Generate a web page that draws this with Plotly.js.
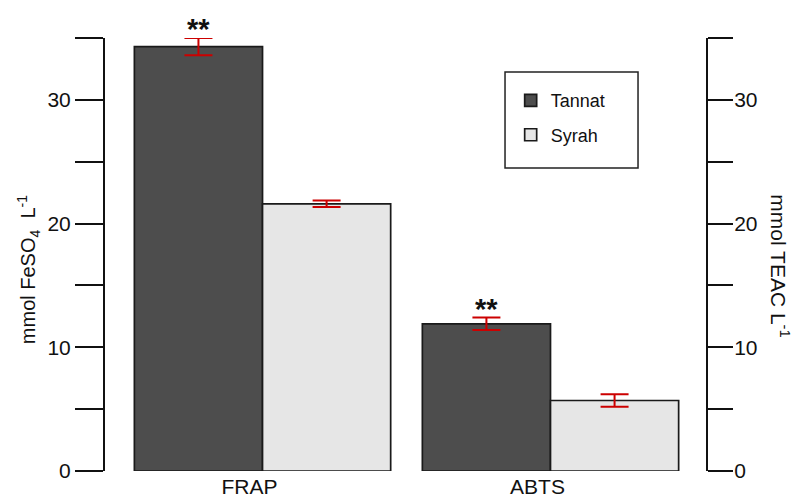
<!DOCTYPE html>
<html>
<head>
<meta charset="utf-8">
<script src="https://cdn.plot.ly/plotly-3.0.1.min.js"></script>
<style>html,body{margin:0;padding:0;background:#fff;}#chart{width:795px;height:499px;}</style>
</head>
<body>
<div id="chart"></div>
<script>
// ---- data ----
var categories = ['FRAP', 'ABTS'];
var series = ['Tannat', 'Syrah'];
// FRAP values on left axis (mmol FeSO4 L-1), ABTS on right axis (mmol TEAC L-1)
var tannatValues = [34.3, 11.9];
var tannatErrors = [0.7, 0.5];
var syrahValues = [21.6, 5.7];
var syrahErrors = [0.27, 0.5];
var significance = ['**', '**']; // Tannat vs Syrah, per category
var leftTicks = [0, 10, 20, 30];
var rightTicks = [0, 10, 20, 30];

var FONT = 'Arial, "Liberation Sans", sans-serif';
var tannatColor = '#4d4d4d';
var syrahColor = '#e6e6e6';
var errColor = '#cc0000';
var bargap = 0.11;

function barTrace(name, color, vals, errs, idx, yaxis, showleg) {
  return {
    type: 'bar',
    name: name,
    legendgroup: name,
    showlegend: showleg,
    x: [categories[idx]],
    y: [vals[idx]],
    yaxis: yaxis,
    marker: {color: color, line: {color: '#1a1a1a', width: 1.7}},
    error_y: {type: 'data', array: [errs[idx]], visible: true, color: errColor, thickness: 2, width: 14},
    hoverinfo: 'x+y'
  };
}

var data = [
  barTrace(series[0], tannatColor, tannatValues, tannatErrors, 0, 'y', true),
  barTrace(series[1], syrahColor, syrahValues, syrahErrors, 0, 'y', true),
  barTrace(series[0], tannatColor, tannatValues, tannatErrors, 1, 'y2', false),
  barTrace(series[1], syrahColor, syrahValues, syrahErrors, 1, 'y2', false)
];

// significance markers above Tannat bars
var barOffset = (1 - bargap) / 4;
var annotations = categories.map(function (c, i) {
  return {
    x: i - barOffset, y: tannatValues[i] + tannatErrors[i],
    xref: 'x', yref: i === 0 ? 'y' : 'y2',
    text: '<b>' + significance[i] + '</b>', showarrow: false,
    xanchor: 'center', yanchor: 'bottom', yshift: -9,
    font: {family: FONT, size: 29, color: '#111'}
  };
});
annotations.push({
  xref: 'paper', yref: 'paper', x: -0.128, y: 0.464,
  text: 'mmol FeSO<sub>4</sub>  L<sup>-1</sup>', textangle: -90, showarrow: false,
  xanchor: 'center', yanchor: 'middle',
  font: {family: FONT, size: 20, color: '#111'}
});
annotations.push({
  xref: 'paper', yref: 'paper', x: 1.123, y: 0.473,
  text: 'mmol TEAC L<sup>-1</sup>', textangle: 90, showarrow: false,
  xanchor: 'center', yanchor: 'middle',
  font: {family: FONT, size: 21, color: '#111'}
});

var yStyle = {
  range: [0, 35],
  showline: true, linecolor: '#111', linewidth: 2,
  ticks: 'outside', ticklen: 28, tickwidth: 2, tickcolor: '#111',
  showgrid: false, zeroline: false,
  minor: {dtick: 5, ticks: 'outside', ticklen: 28, tickwidth: 2, tickcolor: '#111', showgrid: false},
  tickfont: {family: FONT, size: 21, color: '#111'},
  fixedrange: true
};

var layout = {
  width: 795, height: 499,
  margin: {l: 105, r: 89, t: 38, b: 28},
  paper_bgcolor: '#fff', plot_bgcolor: '#fff',
  barmode: 'group', bargap: bargap, bargroupgap: 0,
  font: {family: FONT, color: '#111'},
  xaxis: {
    type: 'category', categoryorder: 'array', categoryarray: categories,
    range: [-0.547, 1.54],
    showline: false, ticks: '', showgrid: false, zeroline: false,
    ticklabelshift: -13, ticklabelstandoff: 1,
    tickfont: {family: FONT, size: 21, color: '#111'},
    fixedrange: true
  },
  yaxis: Object.assign({}, yStyle, {tickvals: leftTicks, side: 'left'}),
  yaxis2: Object.assign({}, yStyle, {tickvals: rightTicks, side: 'right', overlaying: 'y', ticklen: 25,
    ticklabelstandoff: -3,
    minor: {dtick: 5, ticks: 'outside', ticklen: 25, tickwidth: 2, tickcolor: '#111', showgrid: false}}),
  showlegend: true,
  legend: {
    x: 0.675, y: 0.898, xanchor: 'left', yanchor: 'top',
    bgcolor: 'rgba(0,0,0,0)', borderwidth: 0,
    font: {family: FONT, size: 18, color: '#111'},
    tracegroupgap: 8, traceorder: 'grouped'
  },
  shapes: [{
    type: 'rect', xref: 'paper', yref: 'paper',
    x0: 0.6656, x1: 0.8869, y0: 0.6998, y1: 0.9215,
    line: {color: '#222', width: 1.5}, fillcolor: 'rgba(0,0,0,0)'
  }],
  annotations: annotations
};

Plotly.newPlot('chart', data, layout, {displayModeBar: false, staticPlot: true});
</script>
</body>
</html>
